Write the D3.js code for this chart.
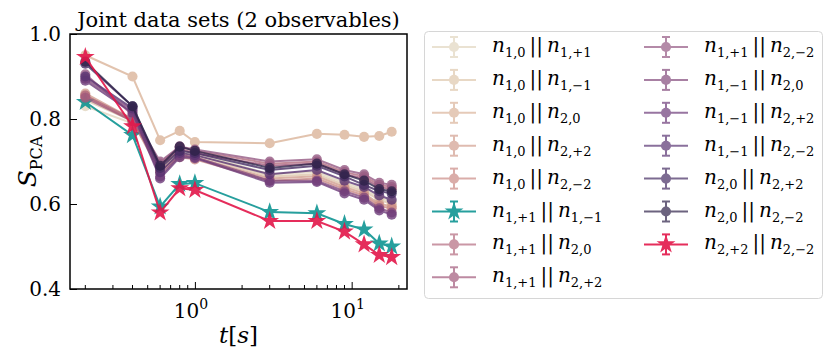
<!DOCTYPE html>
<meta charset="utf-8">
<style>
body { margin: 0; background: white; }
text { font-family: "DejaVu Serif", "Liberation Serif", serif !important; }
.axis path, .axis line { stroke: black; }
</style>
<script src="https://d3js.org/d3.v7.min.js"></script>
<body>
<script>

// time points (s)
var times = [0.2, 0.4, 0.6, 0.8, 1, 3, 6, 9, 12, 15, 18];

// legend labels: [first subscript, second subscript]
var pairs = [
  ["1,0", "1,+1"], ["1,0", "1,\u22121"], ["1,0", "2,0"], ["1,0", "2,+2"], ["1,0", "2,\u22122"],
  ["1,+1", "1,\u22121"], ["1,+1", "2,0"], ["1,+1", "2,+2"], ["1,+1", "2,\u22122"],
  ["1,\u22121", "2,0"], ["1,\u22121", "2,+2"], ["1,\u22121", "2,\u22122"],
  ["2,0", "2,+2"], ["2,0", "2,\u22122"], ["2,+2", "2,\u22122"]
];

var colors = ["#e2d6c0", "#dfc8ad", "#dbb59b", "#d29f8f", "#cb8b86", "#0f9593",
  "#b46c80", "#a25a7b", "#955a84", "#844b7d", "#6d3b7a", "#5a3473", "#462d63", "#2e2249", "#e3174a"];

var markers = ["o", "o", "o", "o", "o", "*", "o", "o", "o", "o", "o", "o", "o", "o", "*"];

// S_PCA values, one array per pair
var s1  = [0.830, 0.790, 0.690, 0.725, 0.720, 0.670, 0.675, 0.650, 0.635, 0.615, 0.605];
var s2  = [0.845, 0.795, 0.685, 0.720, 0.715, 0.665, 0.670, 0.645, 0.630, 0.610, 0.600];
var s3  = [0.950, 0.900, 0.750, 0.772, 0.746, 0.743, 0.765, 0.763, 0.758, 0.760, 0.770];
var s4  = [0.860, 0.800, 0.680, 0.715, 0.710, 0.660, 0.665, 0.640, 0.625, 0.600, 0.595];
var s5  = [0.855, 0.795, 0.675, 0.710, 0.705, 0.655, 0.660, 0.635, 0.620, 0.595, 0.590];
var s6  = [0.840, 0.762, 0.594, 0.647, 0.649, 0.581, 0.578, 0.553, 0.540, 0.507, 0.500];
var s7  = [0.855, 0.800, 0.695, 0.735, 0.725, 0.695, 0.700, 0.675, 0.665, 0.645, 0.640];
var s8  = [0.850, 0.795, 0.690, 0.730, 0.720, 0.690, 0.695, 0.670, 0.660, 0.640, 0.635];
var s9  = [0.905, 0.810, 0.700, 0.735, 0.728, 0.700, 0.705, 0.680, 0.670, 0.650, 0.645];
var s10 = [0.895, 0.820, 0.665, 0.715, 0.710, 0.655, 0.655, 0.630, 0.615, 0.590, 0.580];
var s11 = [0.890, 0.815, 0.660, 0.710, 0.708, 0.650, 0.652, 0.625, 0.610, 0.585, 0.575];
var s12 = [0.900, 0.825, 0.675, 0.720, 0.715, 0.670, 0.680, 0.655, 0.640, 0.620, 0.610];
var s13 = [0.930, 0.830, 0.685, 0.725, 0.720, 0.680, 0.690, 0.665, 0.645, 0.630, 0.625];
var s14 = [0.935, 0.830, 0.690, 0.735, 0.725, 0.685, 0.695, 0.670, 0.655, 0.635, 0.630];
var s15 = [0.946, 0.783, 0.580, 0.637, 0.633, 0.560, 0.560, 0.535, 0.505, 0.480, 0.475];
var values = [s1, s2, s3, s4, s5, s6, s7, s8, s9, s10, s11, s12, s13, s14, s15];

var yTicks = [0.4, 0.6, 0.8, 1.0];

var margin = {top: 34, left: 70},
    width = 337, height = 255;

var svg = d3.select("body").append("svg")
    .attr("width", 830)
    .attr("height", 354);

var g = svg.append("g")
    .attr("transform", "translate(" + margin.left + "," + margin.top + ")");

// log x, with matplotlib-like 5% margins
var lo = Math.log10(times[0]), hi = Math.log10(times[times.length - 1]), pad = (hi - lo) * 0.05;
var x = d3.scaleLog()
    .domain([Math.pow(10, lo - pad), Math.pow(10, hi + pad)])
    .range([0, width]);
var y = d3.scaleLinear()
    .domain([0.4, 1.0])
    .range([height, 0]);

// series lines + markers
var line = d3.line()
    .x(function(d, i) { return x(times[i]); })
    .y(function(d) { return y(d); });

function symbolFor(k) {
  return markers[k] == "*" ? d3.symbol().type(d3.symbolStar).size(110)
                           : d3.symbol().type(d3.symbolCircle).size(80);
}

values.forEach(function(vals, k) {
  var grp = g.append("g").attr("opacity", markers[k] == "*" ? 0.9 : 0.8);
  grp.append("path")
      .attr("d", line(vals))
      .attr("fill", "none")
      .attr("stroke", colors[k])
      .attr("stroke-width", 2);
  grp.selectAll("path.m")
      .data(vals)
    .enter().append("path")
      .attr("class", "m")
      .attr("d", symbolFor(k))
      .attr("transform", function(d, i) { return "translate(" + x(times[i]) + "," + y(d) + ")"; })
      .attr("fill", colors[k]);
});

// axes, ticks inward
var minors = [];
[0.1, 1, 10].forEach(function(dec) {
  for (var m = 2; m <= 9; m++) {
    var v = m * dec;
    if (v > x.domain()[0] && v < x.domain()[1]) minors.push(v);
  }
});

var xAxis = g.append("g")
    .attr("class", "axis")
    .attr("transform", "translate(0," + height + ")");
xAxis.call(d3.axisBottom(x).tickValues([1, 10]).tickSize(-7).tickFormat(""));
xAxis.select(".domain").remove();
xAxis.selectAll(".minor")
    .data(minors)
  .enter().append("line")
    .attr("x1", function(d) { return x(d); })
    .attr("x2", function(d) { return x(d); })
    .attr("y1", 0).attr("y2", -4)
    .attr("stroke", "black");

[1, 10].forEach(function(v, i) {
  var t = g.append("text")
      .attr("x", x(v) - 4)
      .attr("y", height + 29)
      .attr("text-anchor", "middle")
      .style("font-size", "20px");
  t.append("tspan").text("10");
  t.append("tspan").attr("dy", -9).style("font-size", "14px").text(i);
});

var yAxis = g.append("g").attr("class", "axis");
yAxis.call(d3.axisLeft(y).tickValues(yTicks).tickSize(-7).tickPadding(9)
    .tickFormat(d3.format(".1f")));
yAxis.select(".domain").remove();
yAxis.selectAll("text")
    .style("font-size", "20px");

// frame
g.append("rect")
    .attr("width", width)
    .attr("height", height)
    .attr("fill", "none")
    .attr("stroke", "black")
    .attr("stroke-width", 1.5);

// title and axis labels
g.append("text")
    .attr("x", width / 2)
    .attr("y", -7)
    .attr("text-anchor", "middle")
    .style("font-size", "21px")
    .text("Joint data sets (2 observables)");

var xl = g.append("text")
    .attr("x", width / 2)
    .attr("y", height + 54)
    .attr("text-anchor", "middle")
    .style("font-size", "23px");
xl.append("tspan").style("font-style", "italic").text("t");
xl.append("tspan").text("[");
xl.append("tspan").style("font-style", "italic").text("s");
xl.append("tspan").text("]");

var yl = g.append("text")
    .attr("transform", "translate(-34," + (height / 2) + ") rotate(-90)")
    .attr("text-anchor", "middle")
    .style("font-size", "25px");
yl.append("tspan").style("font-style", "italic").text("S");
yl.append("tspan").attr("dy", 6).style("font-size", "16px").text("PCA");

// legend
var legend = svg.append("g");
legend.append("rect")
    .attr("x", 424.5).attr("y", 31.5)
    .attr("width", 398).attr("height", 267)
    .attr("rx", 4)
    .attr("fill", "white")
    .attr("stroke", "#d6d6d6");

pairs.forEach(function(p, k) {
  var col = k < 8 ? 0 : 1, row = k < 8 ? k : k - 8;
  var cx = col == 0 ? 454 : 666, cy = 47 + row * 32.9;
  var h = legend.append("g").attr("opacity", markers[k] == "*" ? 0.9 : 0.7);
  h.append("line")
      .attr("x1", cx - 22).attr("x2", cx + 22)
      .attr("y1", cy).attr("y2", cy)
      .attr("stroke", colors[k]).attr("stroke-width", 2);
  h.append("line")
      .attr("x1", cx).attr("x2", cx)
      .attr("y1", cy - 10).attr("y2", cy + 10)
      .attr("stroke", colors[k]).attr("stroke-width", 2);
  [-10, 10].forEach(function(o) {
    h.append("line")
        .attr("x1", cx - 4).attr("x2", cx + 4)
        .attr("y1", cy + o).attr("y2", cy + o)
        .attr("stroke", colors[k]).attr("stroke-width", 2);
  });
  h.append("path")
      .attr("d", symbolFor(k))
      .attr("transform", "translate(" + cx + "," + cy + ")")
      .attr("fill", colors[k]);

  var t = legend.append("text")
      .attr("x", cx + 38)
      .attr("y", cy + 5)
      .style("font-size", "20px");
  t.append("tspan").style("font-style", "italic").text("n");
  t.append("tspan").attr("dy", 5).style("font-size", "13px").text(p[0]);
  t.append("tspan").attr("dy", -5).text("\u2009||\u2009");
  t.append("tspan").style("font-style", "italic").text("n");
  t.append("tspan").attr("dy", 5).style("font-size", "13px").text(p[1]);
});

</script>
</body>
